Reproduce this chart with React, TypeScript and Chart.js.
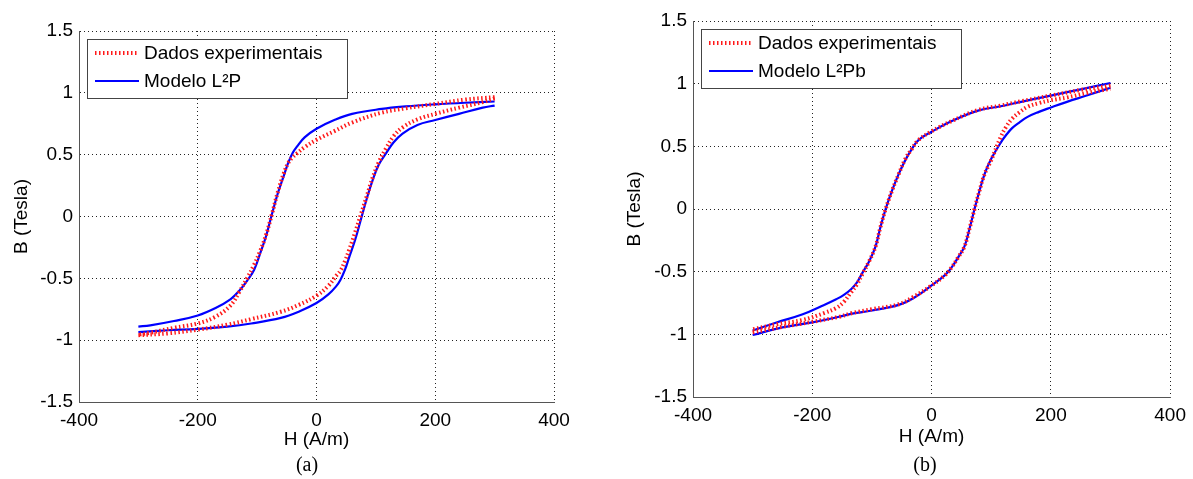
import React, { useEffect, useRef } from "react";
import { Chart, registerables } from "chart.js";
Chart.register(...registerables);

// ---------- tick values / labels ----------
const xTicks = [-400, -200, 0, 200, 400];
const xTickLabels = ["-400", "-200", "0", "200", "400"];
const yTicks = [-1.5, -1, -0.5, 0, 0.5, 1, 1.5];
const yTickLabels = ["-1.5", "-1", "-0.5", "0", "0.5", "1", "1.5"];

const expLabel = "Dados experimentais";
const modelLabelA = "Modelo L²P";
const modelLabelB = "Modelo L²Pb";

// ---------- panel (a) ----------
const aDescH = [300, 250, 200, 150, 110, 60, 30, 0, -20, -33, -40, -48, -55, -65, -75, -85, -95, -105, -117, -130, -145, -170, -200, -240, -280, -300];
const aModDescB = [0.93, 0.92, 0.907, 0.89, 0.87, 0.83, 0.78, 0.71, 0.64, 0.565, 0.515, 0.43, 0.33, 0.19, 0.02, -0.16, -0.3, -0.43, -0.52, -0.6, -0.67, -0.74, -0.8, -0.845, -0.88, -0.89];
const aExpDescB = [0.965, 0.945, 0.91, 0.875, 0.84, 0.76, 0.69, 0.62, 0.56, 0.51, 0.48, 0.43, 0.35, 0.2, 0.02, -0.15, -0.28, -0.39, -0.5, -0.61, -0.72, -0.81, -0.865, -0.9, -0.94, -0.955];
const aAscH = [-300, -250, -200, -150, -110, -60, -30, 0, 20, 33, 40, 48, 55, 65, 75, 85, 95, 105, 117, 130, 145, 170, 200, 240, 280, 300];
const aModAscB = [-0.935, -0.92, -0.908, -0.89, -0.865, -0.82, -0.77, -0.7, -0.63, -0.565, -0.515, -0.43, -0.33, -0.19, -0.02, 0.15, 0.3, 0.42, 0.51, 0.6, 0.67, 0.74, 0.78, 0.83, 0.88, 0.897];
const aExpAscB = [-0.96, -0.945, -0.915, -0.875, -0.83, -0.77, -0.715, -0.64, -0.56, -0.48, -0.44, -0.36, -0.27, -0.13, 0.02, 0.17, 0.32, 0.44, 0.55, 0.65, 0.72, 0.785, 0.83, 0.88, 0.925, 0.955];

// ---------- panel (b) ----------
const bDescH = [300, 250, 200, 150, 116, 78, 33, 0, -22, -33, -44, -55, -66, -77, -86, -94, -105, -116, -125, -135, -147, -160, -180, -216, -260, -300];
const bModDescB = [1.005, 0.955, 0.905, 0.855, 0.82, 0.785, 0.7, 0.616, 0.55, 0.48, 0.39, 0.28, 0.15, 0.0, -0.15, -0.3, -0.42, -0.51, -0.585, -0.64, -0.685, -0.72, -0.765, -0.84, -0.905, -0.97];
const bExpDescB = [0.985, 0.95, 0.905, 0.86, 0.825, 0.79, 0.7, 0.62, 0.55, 0.48, 0.4, 0.28, 0.15, 0.0, -0.15, -0.3, -0.42, -0.52, -0.6, -0.665, -0.74, -0.79, -0.83, -0.885, -0.92, -0.96];
const bAscH = [-300, -250, -200, -155, -133, -100, -55, -30, 0, 22, 33, 44, 55, 64, 72, 80, 89, 100, 116, 125, 135, 147, 161, 180, 200, 227, 260, 300];
const bModAscB = [-1.005, -0.945, -0.905, -0.86, -0.835, -0.81, -0.765, -0.71, -0.61, -0.53, -0.47, -0.39, -0.3, -0.15, 0.0, 0.14, 0.28, 0.4, 0.53, 0.59, 0.645, 0.69, 0.735, 0.775, 0.81, 0.855, 0.905, 0.968];
const bExpAscB = [-0.985, -0.94, -0.9, -0.86, -0.83, -0.8, -0.76, -0.7, -0.61, -0.53, -0.47, -0.39, -0.3, -0.15, 0.0, 0.14, 0.28, 0.39, 0.576, 0.655, 0.72, 0.77, 0.815, 0.845, 0.868, 0.89, 0.925, 0.96];

const SANS = "'Liberation Sans', Arial, sans-serif";
const FONT_SIZE = 19;
const RED = "#ff1a1a";
const BLUE = "#0000ff";
const RED_DASH = [1.5, 2.5];

const zip = (xs: number[], ys: number[]) => xs.map((x, i) => ({ x, y: ys[i] }));

const boxLegend = {
  id: "boxLegend",
  afterDraw(chart: any, _args: any, opts: any) {
    const { ctx, chartArea } = chart;
    const x = Math.round(chartArea.left + opts.dx);
    const y = Math.round(chartArea.top + opts.dy);
    ctx.save();
    ctx.fillStyle = "#ffffff";
    ctx.fillRect(x, y, opts.w, opts.h);
    ctx.strokeStyle = "#444444";
    ctx.lineWidth = 1;
    ctx.setLineDash([]);
    ctx.strokeRect(x + 0.5, y + 0.5, opts.w, opts.h);
    const labels = [chart.data.datasets[0].label, chart.data.datasets[2].label];
    const rows = [opts.row1, opts.row2];
    ctx.beginPath();
    ctx.strokeStyle = RED;
    ctx.lineWidth = 4;
    ctx.setLineDash(RED_DASH);
    ctx.moveTo(x + opts.sx0, y + rows[0]);
    ctx.lineTo(x + opts.sx1, y + rows[0]);
    ctx.stroke();
    ctx.beginPath();
    ctx.setLineDash([]);
    ctx.strokeStyle = BLUE;
    ctx.lineWidth = 2.2;
    ctx.moveTo(x + opts.sx0, y + rows[1]);
    ctx.lineTo(x + opts.sx1, y + rows[1]);
    ctx.stroke();
    ctx.fillStyle = "#000";
    ctx.font = `${FONT_SIZE}px ${SANS}`;
    ctx.textBaseline = "middle";
    ctx.textAlign = "left";
    labels.forEach((t: string, i: number) => ctx.fillText(t, x + opts.tx, y + rows[i] + 1));
    ctx.restore();
  },
};

type PanelProps = {
  width: number;
  height: number;
  modelLabel: string;
  descH: number[];
  ascH: number[];
  expDesc: number[];
  expAsc: number[];
  modDesc: number[];
  modAsc: number[];
  yAxisWidth: number;
  xAxisHeight: number;
  pad: { top: number; right: number; bottom: number };
  yTitlePad: number;
  xTitlePad: number;
};

function Panel(p: PanelProps) {
  const ref = useRef<HTMLCanvasElement | null>(null);
  useEffect(() => {
    if (!ref.current) return;
    const font = { family: SANS, size: FONT_SIZE };
    const expStyle = {
      borderColor: RED,
      borderWidth: 4,
      borderDash: RED_DASH,
      borderCapStyle: "butt" as const,
      pointRadius: 0,
      showLine: true,
      fill: false,
      tension: 0.4,
    };
    const modStyle = {
      borderColor: BLUE,
      borderWidth: 2.2,
      pointRadius: 0,
      showLine: true,
      fill: false,
      tension: 0.4,
    };
    const chart = new Chart(ref.current, {
      type: "scatter",
      data: {
        datasets: [
          { label: expLabel, data: zip(p.descH, p.expDesc), ...expStyle },
          { label: expLabel + " ", data: zip(p.ascH, p.expAsc), ...expStyle },
          { label: p.modelLabel, data: zip(p.descH, p.modDesc), ...modStyle },
          { label: p.modelLabel + " ", data: zip(p.ascH, p.modAsc), ...modStyle },
        ],
      },
      options: {
        animation: false,
        responsive: false,
        layout: { padding: { left: 0, top: p.pad.top, right: p.pad.right, bottom: p.pad.bottom } },
        plugins: {
          legend: { display: false },
          tooltip: { enabled: false },
          boxLegend: { dx: 8, dy: 8, w: 260, h: 59, row1: 14, row2: 42, sx0: 8, sx1: 52, tx: 57 },
        } as any,
        scales: {
          x: {
            type: "linear",
            min: -400,
            max: 400,
            afterBuildTicks: (s: any) => {
              s.ticks = xTicks.map((v) => ({ value: v }));
            },
            afterFit: (s: any) => {
              s.height = p.xAxisHeight;
            },
            ticks: {
              autoSkip: false,
              maxRotation: 0,
              padding: 7,
              color: "#000",
              font,
              callback: (v: any) => {
                const i = xTicks.indexOf(Number(v));
                return i >= 0 ? xTickLabels[i] : "";
              },
            },
            grid: { color: "#222", lineWidth: 1, drawTicks: false },
            border: { display: true, color: "#555", width: 1, dash: [1, 3] },
            title: { display: true, text: "H (A/m)", color: "#000", font, padding: { top: 0, bottom: p.xTitlePad } },
          },
          y: {
            type: "linear",
            min: -1.5,
            max: 1.5,
            afterBuildTicks: (s: any) => {
              s.ticks = yTicks.map((v) => ({ value: v }));
            },
            afterFit: (s: any) => {
              s.width = p.yAxisWidth;
            },
            ticks: {
              autoSkip: false,
              padding: 6,
              color: "#000",
              font,
              callback: (v: any) => {
                const i = yTicks.findIndex((t) => Math.abs(t - Number(v)) < 1e-9);
                return i >= 0 ? yTickLabels[i] : "";
              },
            },
            grid: { color: "#222", lineWidth: 1, drawTicks: false },
            border: { display: true, color: "#555", width: 1, dash: [1, 3] },
            title: { display: true, text: "B (Tesla)", color: "#000", font, padding: { top: p.yTitlePad, bottom: 0 } },
          },
        },
      },
      plugins: [boxLegend],
    } as any);
    return () => chart.destroy();
  }, []);
  return <canvas ref={ref} width={p.width} height={p.height} style={{ display: "block", width: p.width, height: p.height }} />;
}

const captionStyle: React.CSSProperties = {
  position: "absolute",
  width: 100,
  textAlign: "center",
  fontFamily: "'Liberation Serif', 'Times New Roman', serif",
  fontSize: 20,
  lineHeight: "24px",
  top: 452,
  color: "#000",
};

export default function App() {
  return (
    <div style={{ position: "absolute", left: 0, top: 0, width: 1193, height: 479, background: "#fff", overflow: "hidden" }}>
      <div style={{ position: "absolute", left: 0, top: 0 }}>
        <Panel
          width={590}
          height={479}
          modelLabel={modelLabelA}
          descH={aDescH}
          ascH={aAscH}
          expDesc={aExpDescB}
          expAsc={aExpAscB}
          modDesc={aModDescB}
          modAsc={aModAscB}
          yAxisWidth={79}
          xAxisHeight={52}
          pad={{ top: 31, right: 36, bottom: 25 }}
          yTitlePad={10.6}
          xTitlePad={2.6}
        />
      </div>
      <div style={{ position: "absolute", left: 600, top: 0 }}>
        <Panel
          width={593}
          height={479}
          modelLabel={modelLabelB}
          descH={bDescH}
          ascH={bAscH}
          expDesc={bExpDescB}
          expAsc={bExpAscB}
          modDesc={bModDescB}
          modAsc={bModAscB}
          yAxisWidth={93}
          xAxisHeight={52}
          pad={{ top: 21, right: 19, bottom: 30 }}
          yTitlePad={23.6}
          xTitlePad={0.6}
        />
      </div>
      <div style={{ ...captionStyle, left: 257 }}>(a)</div>
      <div style={{ ...captionStyle, left: 875 }}>(b)</div>
    </div>
  );
}
